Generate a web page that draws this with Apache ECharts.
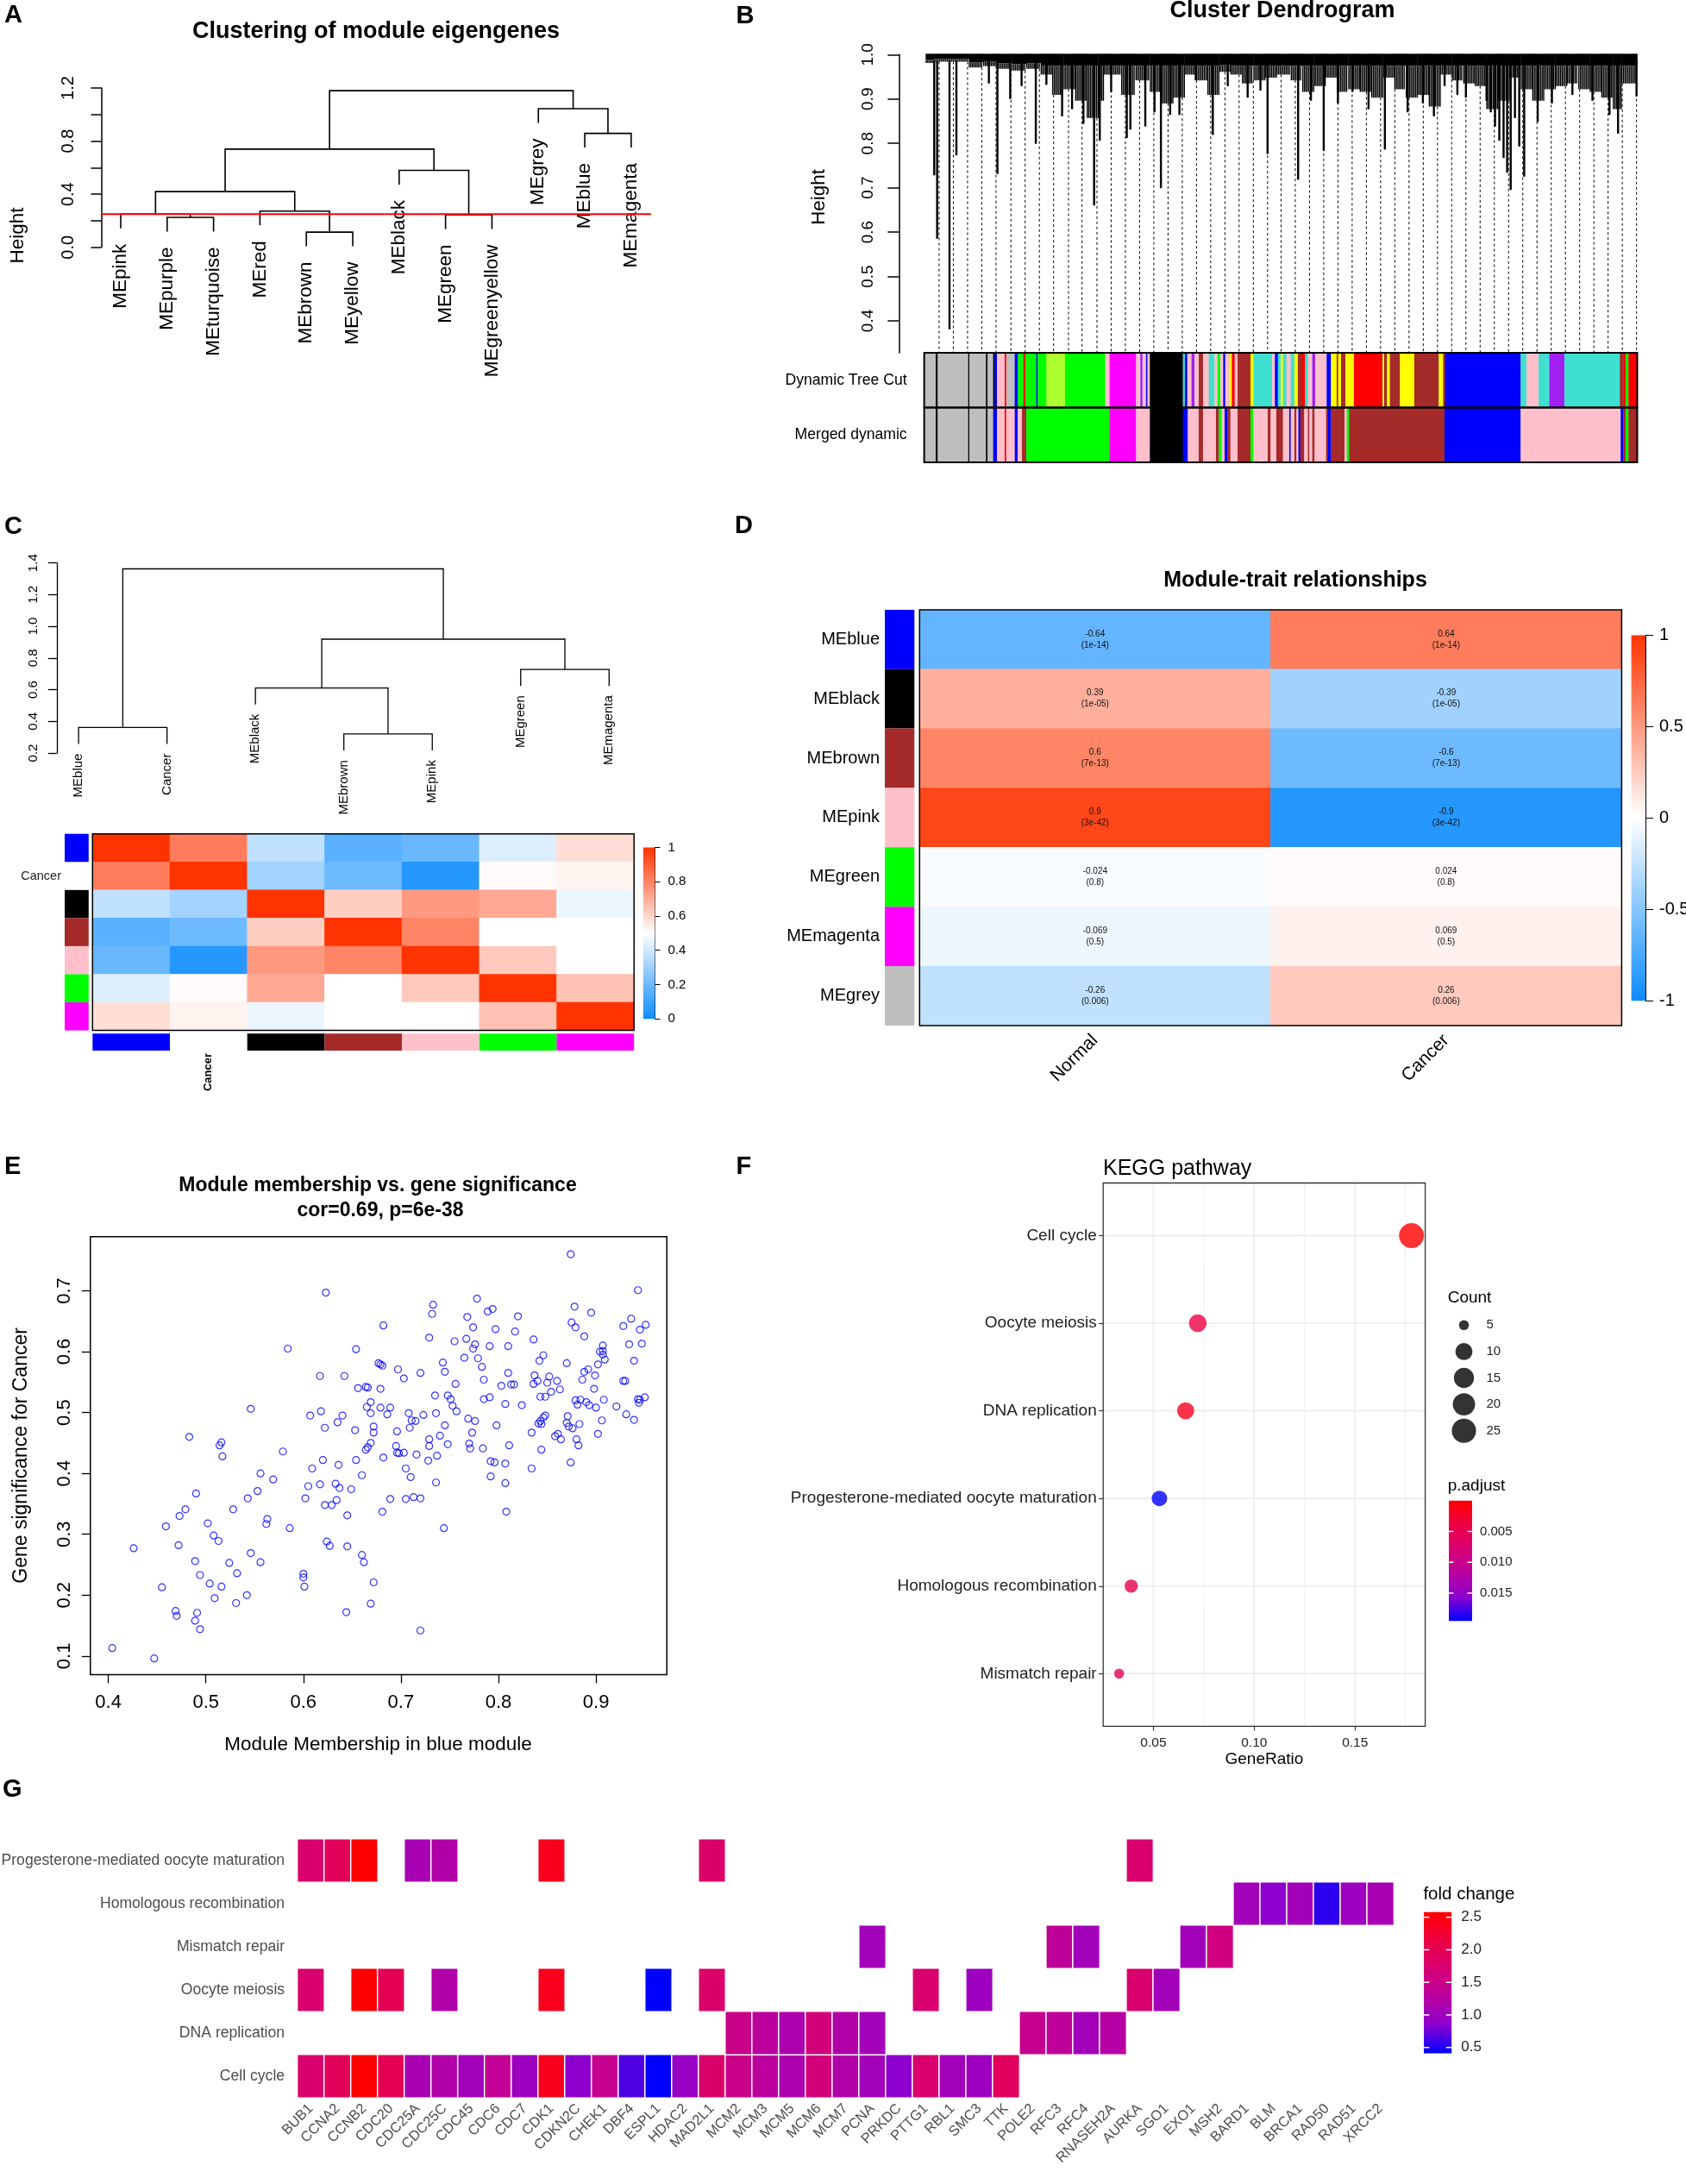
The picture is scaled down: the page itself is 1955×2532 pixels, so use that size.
<!DOCTYPE html>
<html>
<head>
<meta charset="utf-8">
<title>WGCNA blue module figure</title>
<script src="https://cdn.jsdelivr.net/npm/echarts@6.0.0/dist/echarts.min.js"></script>
<style>
html, body { margin: 0; padding: 0; background: #fff; }
#main { width: 1955px; height: 2532px; }
</style>
</head>
<body>
<div id="main"></div>
<script>
var FONT = '"Liberation Sans", Arial, Helvetica, sans-serif';

// ---------- A: clustering of module eigengenes ----------
var aLeaves = ['MEpink', 'MEpurple', 'MEturquoise', 'MEred', 'MEbrown', 'MEyellow', 'MEblack', 'MEgreen', 'MEgreenyellow', 'MEgrey', 'MEblue', 'MEmagenta'];
var aMerge = [[-5, -6], [-2, -3], [-8, -9], [-1, 2], [-4, 1], [4, 5], [-7, 3], [6, 7], [-11, -12], [-10, 9], [8, 10]];
var aHeights = [0.115, 0.226, 0.245, 0.25, 0.273, 0.42, 0.58, 0.74, 0.858, 1.044, 1.18];
var aCutHeight = 0.25;

// ---------- B: gene dendrogram (leaf order in % of leaves) ----------
var bYTicks = [0.4, 0.5, 0.6, 0.7, 0.8, 0.9, 1.0];
var bCanopyStart = [0, 1.21, 6.07, 8.09, 10.11, 12.13, 14.16, 16.18, 17.8, 19.41, 21.03, 22.65, 24.27, 25.07, 27.5, 29.52, 31.54, 33.16, 34.78, 36.4, 38.01, 39.63, 41.25, 42.87, 44.49, 46.1, 47.72, 49.34, 51.36, 52.97, 54.59, 56.21, 57.83, 59.44, 61.06, 62.68, 64.3, 65.92, 67.53, 69.15, 70.77, 72.39, 74.01, 75.62, 77.24, 78.86, 80.48, 82.1, 83.71, 85.33, 86.95, 88.57, 90.19, 91.8, 93.42, 95.04, 96.66, 97.87];
var bCanopyDepth = [0.981, 0.984, 0.971, 0.974, 0.968, 0.964, 0.968, 0.955, 0.909, 0.922, 0.896, 0.857, 0.896, 0.955, 0.909, 0.942, 0.916, 0.890, 0.903, 0.955, 0.942, 0.909, 0.961, 0.955, 0.935, 0.942, 0.948, 0.955, 0.942, 0.916, 0.929, 0.948, 0.916, 0.922, 0.916, 0.903, 0.948, 0.922, 0.903, 0.909, 0.883, 0.955, 0.942, 0.935, 0.929, 0.877, 0.896, 0.948, 0.922, 0.896, 0.922, 0.929, 0.935, 0.922, 0.916, 0.903, 0.877, 0.935];
var bCanopyEnd = 100.1;
var bSpikePos = [1.21, 1.62, 3.36, 4.33, 8.9, 10.1, 11.9, 13.5, 15.5, 16.99, 19.2, 20.6, 22.2, 23.7, 24.5, 26.1, 28.3, 28.8, 30.9, 32.2, 33.1, 34.4, 35.7, 38.0, 40.4, 42.5, 45.3, 47.1, 48.1, 52.4, 54.2, 56.0, 58.0, 60.05, 62.3, 64.6, 67.8, 69.95, 71.5, 73.0, 74.8, 76.0, 78.9, 79.5, 80.1, 80.7, 81.3, 81.8, 82.3, 82.9, 83.5, 84.2, 86.1, 88.1, 90.98, 93.8, 96.2, 97.4, 100.0];
var bSpikeLow = [0.728, 0.585, 0.381, 0.773, 0.935, 0.731, 0.90, 0.929, 0.799, 0.932, 0.861, 0.877, 0.844, 0.66, 0.806, 0.916, 0.812, 0.831, 0.838, 0.87, 0.699, 0.864, 0.864, 0.942, 0.819, 0.929, 0.903, 0.919, 0.776, 0.718, 0.896, 0.783, 0.89, 0.916, 0.877, 0.786, 0.87, 0.89, 0.861, 0.929, 0.909, 0.903, 0.896, 0.87, 0.838, 0.806, 0.767, 0.734, 0.695, 0.857, 0.793, 0.725, 0.848, 0.89, 0.909, 0.896, 0.864, 0.822, 0.906];
var bGuidePos = [1.9, 3.9, 5.9, 7.9, 9.9, 12.0, 14.0, 16.0, 18.0, 20.1, 22.0, 24.1, 26.1, 28.1, 30.1, 32.1, 34.1, 36.1, 38.1, 40.1, 42.1, 44.1, 46.1, 48.1, 50, 52, 54, 56, 58, 60, 62, 64, 66, 68, 70, 72, 74, 76, 78, 80, 82, 84, 86, 88, 90, 92, 94, 96, 98, 100];
var bBarRows = ['Dynamic Tree Cut', 'Merged dynamic'];
var bBarEnd = 100.08;
var bTreeCutStart = [-0.2, 1.42, 1.70, 5.99, 6.15, 8.49, 8.70, 9.50, 9.71, 10.03, 11.12, 11.33, 12.54, 12.94, 13.75, 14.07, 15.57, 15.77, 16.99, 19.61, 25.27, 25.88, 29.6, 30.2, 30.5, 31.0, 31.2, 31.54, 36.19, 36.47, 36.8, 37.4, 37.81, 38.42, 39.02, 39.83, 40.64, 41.05, 41.45, 41.86, 42.14, 42.78, 43.07, 43.47, 43.88, 45.7, 46.1, 48.73, 49.13, 49.54, 49.94, 50.26, 50.75, 51.35, 51.88, 52.36, 52.97, 53.38, 53.78, 54.39, 54.79, 56.41, 57.02, 57.82, 58.03, 58.43, 59.04, 60.25, 64.09, 64.29, 64.5, 64.9, 65.3, 66.72, 68.74, 72.18, 72.79, 73.07, 83.7, 84.51, 86.21, 87.74, 89.85, 97.65, 98.14, 98.46, 98.86];
var bTreeCutModule = ['grey', 'black', 'grey', 'black', 'grey', 'black', 'grey', 'black', 'blue', 'pink', 'red', 'grey', 'blue', 'green', 'red', 'green', 'blue', 'green', 'greenyellow', 'green', 'pink', 'magenta', 'pink', 'purple', 'pink', 'blue', 'pink', 'black', 'turquoise', 'blue', 'pink', 'purple', 'pink', 'brown', 'pink', 'turquoise', 'pink', 'green', 'pink', 'blue', 'pink', 'yellow', 'red', 'pink', 'brown', 'yellow', 'turquoise', 'pink', 'blue', 'turquoise', 'yellow', 'turquoise', 'pink', 'turquoise', 'yellow', 'brown', 'red', 'turquoise', 'pink', 'purple', 'pink', 'blue', 'yellow', 'brown', 'yellow', 'brown', 'yellow', 'red', 'brown', 'yellow', 'brown', 'yellow', 'brown', 'yellow', 'brown', 'yellow', 'brown', 'blue', 'turquoise', 'pink', 'turquoise', 'purple', 'turquoise', 'brown', 'red', 'green', 'red'];
var bMergedStart = [-0.2, 1.42, 1.70, 5.99, 6.15, 8.49, 8.70, 9.50, 10.03, 11.12, 11.33, 12.54, 12.94, 13.55, 14.16, 25.88, 29.6, 31.54, 36.19, 36.88, 38.42, 39.02, 40.84, 41.25, 41.65, 42.06, 42.46, 42.87, 43.88, 45.7, 46.1, 48.12, 48.53, 49.33, 50.26, 51.15, 51.35, 51.88, 52.16, 52.44, 52.69, 53.25, 53.78, 53.98, 54.39, 54.71, 56.33, 56.53, 57.02, 58.92, 59.24, 59.56, 72.99, 83.7, 97.77, 98.14, 98.46, 98.86];
var bMergedModule = ['grey', 'black', 'grey', 'black', 'grey', 'black', 'grey', 'blue', 'pink', 'red', 'pink', 'blue', 'pink', 'brown', 'green', 'magenta', 'pink', 'black', 'blue', 'pink', 'brown', 'pink', 'brown', 'green', 'pink', 'blue', 'brown', 'pink', 'brown', 'green', 'pink', 'brown', 'pink', 'brown', 'pink', 'blue', 'pink', 'brown', 'pink', 'blue', 'brown', 'pink', 'brown', 'pink', 'brown', 'pink', 'brown', 'blue', 'brown', 'pink', 'green', 'brown', 'blue', 'pink', 'blue', 'brown', 'green', 'brown'];

var moduleColors = {
	grey: '#BEBEBE', black: '#000000', blue: '#0000FF', pink: '#FFC0CB', red: '#FF0000', green: '#00FF00',
	greenyellow: '#ADFF2F', magenta: '#FF00FF', turquoise: '#40E0D0', brown: '#A52A2A', yellow: '#FFFF00', purple: '#A020F0'
};

// ---------- C: eigengene network ----------
var cLeaves = ['MEblue', 'Cancer', 'MEblack', 'MEbrown', 'MEpink', 'MEgreen', 'MEmagenta'];
var cMerge = [[-4, -5], [-1, -2], [-3, 1], [-6, -7], [3, 4], [2, 5]];
var cHeights = [0.32, 0.361, 0.611, 0.728, 0.919, 1.363];
var cModules = ['blue', '', 'black', 'brown', 'pink', 'green', 'magenta'];
var cAdjacency = [
	[1, 0.82, 0.37, 0.16, 0.19, 0.43, 0.58],
	[0.82, 1, 0.31, 0.2, 0.05, 0.51, 0.53],
	[0.37, 0.31, 1, 0.62, 0.75, 0.71, 0.46],
	[0.16, 0.2, 0.62, 1, 0.8, 0.5, 0.5],
	[0.19, 0.05, 0.75, 0.8, 1, 0.63, 0.5],
	[0.43, 0.51, 0.71, 0.5, 0.63, 1, 0.65],
	[0.58, 0.53, 0.46, 0.5, 0.5, 0.65, 1]
];

// ---------- D: module-trait relationships ----------
var dModules = ['MEblue', 'MEblack', 'MEbrown', 'MEpink', 'MEgreen', 'MEmagenta', 'MEgrey'];
var dModuleColor = ['blue', 'black', 'brown', 'pink', 'green', 'magenta', 'grey'];
var dTraits = ['Normal', 'Cancer'];
var dCorNormal = [-0.64, 0.39, 0.6, 0.9, -0.024, -0.069, -0.26];
var dCorCancer = [0.64, -0.39, -0.6, -0.9, 0.024, 0.069, 0.26];
var dPvalue = ['1e-14', '1e-05', '7e-13', '3e-42', '0.8', '0.5', '0.006'];

// ---------- E: MM vs GS, blue module ----------
var eXTicks = [0.4, 0.5, 0.6, 0.7, 0.8, 0.9];
var eYTicks = [0.1, 0.2, 0.3, 0.4, 0.5, 0.6, 0.7];
var eMM = [0.404, 0.426, 0.447, 0.455, 0.459, 0.469, 0.470, 0.472, 0.473, 0.479, 0.483, 0.489, 0.490, 0.489, 0.491, 0.494, 0.494, 0.502, 0.504, 0.508, 0.509, 0.513, 0.514, 0.516, 0.517, 0.516, 0.524, 0.528, 0.531, 0.532, 0.542, 0.543, 0.546, 0.546, 0.553, 0.556, 0.556, 0.562, 0.563, 0.569, 0.579, 0.584, 0.586, 0.600, 0.600, 0.601, 0.602, 0.605, 0.607, 0.609, 0.617, 0.617, 0.618, 0.620, 0.622, 0.622, 0.623, 0.624, 0.627, 0.629, 0.633, 0.634, 0.635, 0.636, 0.637, 0.640, 0.642, 0.644, 0.645, 0.645, 0.649, 0.653, 0.654, 0.654, 0.656, 0.660, 0.660, 0.662, 0.664, 0.665, 0.666, 0.664, 0.666, 0.669, 0.669, 0.669, 0.669, 0.672, 0.672, 0.672, 0.677, 0.679, 0.681, 0.679, 0.679, 0.682, 0.682, 0.681, 0.686, 0.689, 0.689, 0.696, 0.695, 0.696, 0.697, 0.698, 0.703, 0.703, 0.705, 0.705, 0.708, 0.709, 0.710, 0.711, 0.713, 0.715, 0.716, 0.720, 0.720, 0.720, 0.723, 0.729, 0.729, 0.728, 0.729, 0.732, 0.733, 0.735, 0.736, 0.736, 0.737, 0.740, 0.743, 0.745, 0.745, 0.744, 0.748, 0.748, 0.751, 0.753, 0.755, 0.756, 0.757, 0.765, 0.767, 0.768, 0.769, 0.770, 0.771, 0.773, 0.774, 0.774, 0.776, 0.776, 0.778, 0.779, 0.783, 0.784, 0.785, 0.785, 0.789, 0.791, 0.791, 0.792, 0.792, 0.794, 0.796, 0.797, 0.798, 0.803, 0.807, 0.807, 0.807, 0.808, 0.810, 0.810, 0.811, 0.813, 0.816, 0.817, 0.820, 0.824, 0.834, 0.834, 0.836, 0.836, 0.837, 0.840, 0.842, 0.841, 0.843, 0.843, 0.844, 0.844, 0.846, 0.846, 0.848, 0.848, 0.850, 0.852, 0.854, 0.860, 0.858, 0.861, 0.863, 0.864, 0.870, 0.870, 0.871, 0.872, 0.874, 0.874, 0.875, 0.876, 0.878, 0.879, 0.879, 0.880, 0.881, 0.882, 0.883, 0.884, 0.886, 0.888, 0.888, 0.890, 0.892, 0.893, 0.895, 0.898, 0.899, 0.900, 0.902, 0.902, 0.904, 0.906, 0.907, 0.907, 0.908, 0.909, 0.907, 0.921, 0.928, 0.928, 0.930, 0.931, 0.934, 0.936, 0.939, 0.939, 0.943, 0.943, 0.945, 0.944, 0.947, 0.950, 0.951, 0.945];
var eGS = [0.113, 0.277, 0.096, 0.213, 0.313, 0.174, 0.166, 0.282, 0.330, 0.341, 0.460, 0.256, 0.367, 0.158, 0.171, 0.233, 0.144, 0.318, 0.219, 0.298, 0.195, 0.289, 0.446, 0.451, 0.428, 0.214, 0.253, 0.341, 0.187, 0.236, 0.200, 0.359, 0.506, 0.269, 0.371, 0.400, 0.254, 0.317, 0.325, 0.390, 0.436, 0.605, 0.310, 0.235, 0.229, 0.214, 0.359, 0.379, 0.495, 0.408, 0.382, 0.560, 0.502, 0.422, 0.348, 0.475, 0.697, 0.288, 0.281, 0.348, 0.383, 0.356, 0.484, 0.414, 0.376, 0.495, 0.560, 0.172, 0.280, 0.331, 0.374, 0.471, 0.422, 0.604, 0.540, 0.397, 0.266, 0.254, 0.542, 0.509, 0.541, 0.439, 0.443, 0.186, 0.517, 0.499, 0.450, 0.477, 0.467, 0.221, 0.581, 0.579, 0.577, 0.539, 0.508, 0.643, 0.426, 0.337, 0.497, 0.508, 0.358, 0.469, 0.445, 0.434, 0.571, 0.433, 0.434, 0.556, 0.408, 0.358, 0.499, 0.475, 0.394, 0.487, 0.361, 0.486, 0.431, 0.359, 0.142, 0.565, 0.496, 0.456, 0.445, 0.421, 0.623, 0.662, 0.677, 0.528, 0.499, 0.385, 0.429, 0.462, 0.582, 0.567, 0.479, 0.310, 0.528, 0.448, 0.522, 0.511, 0.617, 0.547, 0.502, 0.590, 0.621, 0.657, 0.490, 0.449, 0.441, 0.467, 0.640, 0.605, 0.612, 0.486, 0.687, 0.589, 0.575, 0.441, 0.554, 0.522, 0.666, 0.525, 0.609, 0.420, 0.395, 0.670, 0.418, 0.637, 0.479, 0.544, 0.416, 0.384, 0.514, 0.337, 0.609, 0.565, 0.446, 0.546, 0.546, 0.633, 0.658, 0.512, 0.408, 0.467, 0.620, 0.547, 0.561, 0.552, 0.585, 0.482, 0.526, 0.486, 0.481, 0.439, 0.594, 0.492, 0.526, 0.495, 0.549, 0.559, 0.534, 0.552, 0.461, 0.465, 0.538, 0.456, 0.581, 0.483, 0.494, 0.477, 0.418, 0.760, 0.648, 0.474, 0.674, 0.520, 0.640, 0.456, 0.513, 0.446, 0.481, 0.521, 0.554, 0.625, 0.567, 0.517, 0.571, 0.512, 0.664, 0.539, 0.561, 0.508, 0.579, 0.465, 0.600, 0.487, 0.610, 0.595, 0.521, 0.587, 0.601, 0.510, 0.642, 0.552, 0.552, 0.497, 0.612, 0.654, 0.585, 0.488, 0.522, 0.701, 0.636, 0.516, 0.613, 0.525, 0.644, 0.521];

// ---------- F: KEGG dot plot ----------
var fPathways = ['Cell cycle', 'Oocyte meiosis', 'DNA replication', 'Progesterone-mediated oocyte maturation', 'Homologous recombination', 'Mismatch repair'];
var fGeneRatio = [0.178, 0.072, 0.066, 0.053, 0.039, 0.033];
var fCount = [27, 11, 10, 8, 6, 5];
var fPadjust = [0.00001, 0.0039, 0.0018, 0.0195, 0.0050, 0.0056];
var fXTicks = [0.05, 0.10, 0.15];
var fGridX = [0.05, 0.075, 0.10, 0.125, 0.15, 0.175];
var fCountBreaks = [5, 10, 15, 20, 25];
var fPadjTicks = [0.005, 0.010, 0.015];

// ---------- G: gene-pathway heatmap ----------
var gGenes = ['BUB1', 'CCNA2', 'CCNB2', 'CDC20', 'CDC25A', 'CDC25C', 'CDC45', 'CDC6', 'CDC7', 'CDK1', 'CDKN2C', 'CHEK1', 'DBF4', 'ESPL1', 'HDAC2', 'MAD2L1', 'MCM2', 'MCM3', 'MCM5', 'MCM6', 'MCM7', 'PCNA', 'PRKDC', 'PTTG1', 'RBL1', 'SMC3', 'TTK', 'POLE2', 'RFC3', 'RFC4', 'RNASEH2A', 'AURKA', 'SGO1', 'EXO1', 'MSH2', 'BARD1', 'BLM', 'BRCA1', 'RAD50', 'RAD51', 'XRCC2'];
var gFoldChange = [1.75, 1.95, 2.58, 2.0, 1.1, 1.2, 1.05, 1.4, 1.0, 2.4, 0.85, 1.45, 0.65, 0.41, 0.95, 1.8, 1.5, 1.3, 1.15, 1.65, 1.2, 1.05, 0.85, 1.75, 1.05, 1.0, 1.9, 1.45, 1.35, 1.05, 1.25, 1.75, 1.05, 1.05, 1.6, 1.05, 0.85, 1.05, 0.55, 1.0, 1.1];
var gPathways = ['Cell cycle', 'DNA replication', 'Oocyte meiosis', 'Mismatch repair', 'Homologous recombination', 'Progesterone-mediated oocyte maturation'];
var gCellCycle = ['BUB1', 'CCNA2', 'CCNB2', 'CDC20', 'CDC25A', 'CDC25C', 'CDC45', 'CDC6', 'CDC7', 'CDK1', 'CDKN2C', 'CHEK1', 'DBF4', 'ESPL1', 'HDAC2', 'MAD2L1', 'MCM2', 'MCM3', 'MCM5', 'MCM6', 'MCM7', 'PCNA', 'PRKDC', 'PTTG1', 'RBL1', 'SMC3', 'TTK'];
var gDnaReplication = ['MCM2', 'MCM3', 'MCM5', 'MCM6', 'MCM7', 'PCNA', 'POLE2', 'RFC3', 'RFC4', 'RNASEH2A'];
var gOocyteMeiosis = ['BUB1', 'CCNB2', 'CDC20', 'CDC25C', 'CDK1', 'ESPL1', 'MAD2L1', 'PTTG1', 'SMC3', 'AURKA', 'SGO1'];
var gMismatchRepair = ['PCNA', 'RFC3', 'RFC4', 'EXO1', 'MSH2'];
var gHomologous = ['BARD1', 'BLM', 'BRCA1', 'RAD50', 'RAD51', 'XRCC2'];
var gProgesterone = ['BUB1', 'CCNA2', 'CCNB2', 'CDC25A', 'CDC25C', 'CDK1', 'MAD2L1', 'AURKA'];
var gLegendTicks = [0.5, 1.0, 1.5, 2.0, 2.5];

// colour scales
var bwrColors = ['#0D8CFF', '#FFFFFF', '#FF3300'];
var labBlueRed = ['#0000FF', '#8D00CF', '#BA00A0', '#D70072', '#ED0044', '#FF0000'];

// ---------------------------------------------------------------
var grids = [], xAxes = [], yAxes = [], series = [], graphics = [], visualMaps = [];

function addGrid(box, xa, ya) {
	var i = grids.length;
	grids.push({ left: box[0], top: box[1], width: box[2], height: box[3], show: false, containLabel: false, outerBoundsMode: 'none' });
	xa.gridIndex = i;
	ya.gridIndex = i;
	xAxes.push(xa);
	yAxes.push(ya);
	return i;
}
function hiddenValue(min, max) {
	return { type: 'value', min: min, max: max, show: false };
}
function hiddenCat(data, inverse) {
	return { type: 'category', data: data, inverse: !!inverse, show: false };
}
function axisLineStyle(w) {
	return { show: true, onZero: false, lineStyle: { color: '#000', width: w } };
}
function text(x, y, s, size, o) {
	o = o || {};
	graphics.push({
		type: 'text', x: x, y: y, rotation: o.rot || 0, silent: true,
		style: {
			text: s, fontSize: size, fontFamily: FONT, fontWeight: o.bold ? 'bold' : 'normal', fill: o.color || '#000',
			align: o.align || 'center', textAlign: o.align || 'center', verticalAlign: 'middle', textVerticalAlign: 'middle'
		}
	});
}
function pushSeries(s) {
	s.silent = true;
	s.animation = false;
	series.push(s);
	return series.length - 1;
}

// hclust-like layout: leaves are already in plotting order 1..n
function dendroLayout(merge, heights) {
	var hang = 0.1 * (Math.max.apply(null, heights) - Math.min.apply(null, heights));
	var nodeX = [], links = [], leaves = [];
	function child(id, h) {
		if (id < 0) {
			leaves.push([-id, h - hang]);
			return [-id, h - hang];
		}
		return [nodeX[id - 1], heights[id - 1]];
	}
	merge.forEach(function (m, k) {
		var h = heights[k];
		var a = child(m[0], h), b = child(m[1], h);
		nodeX[k] = (a[0] + b[0]) / 2;
		links.push([a[0], a[1], b[0], b[1], h]);
	});
	return { links: links, leaves: leaves };
}
function linkSeries(gi, links, lw) {
	return {
		type: 'custom', xAxisIndex: gi, yAxisIndex: gi, data: links, clip: false,
		renderItem: function (params, api) {
			var a = api.coord([api.value(0), api.value(1)]);
			var b = api.coord([api.value(0), api.value(4)]);
			var c = api.coord([api.value(2), api.value(4)]);
			var d = api.coord([api.value(2), api.value(3)]);
			return { type: 'polyline', shape: { points: [a, b, c, d] }, style: { stroke: '#000', lineWidth: lw, fill: null } };
		}
	};
}
function leafLabelSeries(gi, leaves, names, gap, size) {
	return {
		type: 'custom', xAxisIndex: gi, yAxisIndex: gi, data: leaves, clip: false,
		renderItem: function (params, api) {
			var p = api.coord([api.value(0), api.value(1)]);
			return {
				type: 'text', x: p[0], y: p[1] + gap, rotation: Math.PI / 2,
				style: {
					text: names[api.value(0) - 1], fontSize: size, fontFamily: FONT, fill: '#000',
					align: 'right', textAlign: 'right', verticalAlign: 'middle', textVerticalAlign: 'middle'
				}
			};
		}
	};
}
function frameSeries(gi, color, lw) {
	return {
		type: 'custom', xAxisIndex: gi, yAxisIndex: gi, data: [[0, 0]], clip: false, z: 10,
		renderItem: function (params) {
			var c = params.coordSys;
			return { type: 'rect', shape: { x: c.x, y: c.y, width: c.width, height: c.height }, style: { fill: null, stroke: color, lineWidth: lw } };
		}
	};
}
function gradientSeries(gi, vLow, vHigh, stopsTopDown) {
	return {
		type: 'custom', xAxisIndex: gi, yAxisIndex: gi, data: [[0, vLow, 1, vHigh]], clip: false,
		renderItem: function (params, api) {
			var c = params.coordSys;
			var stops = stopsTopDown.map(function (col, i) { return { offset: i / (stopsTopDown.length - 1), color: col }; });
			return { type: 'rect', shape: { x: c.x, y: c.y, width: c.width, height: c.height }, style: { fill: new echarts.graphic.LinearGradient(0, 0, 0, 1, stops) } };
		}
	};
}
function whiteTickSeries(gi, ticks) {
	return {
		type: 'custom', xAxisIndex: gi, yAxisIndex: gi, data: ticks.map(function (t) { return [0, t]; }), clip: false, z: 5,
		renderItem: function (params, api) {
			var c = params.coordSys;
			var y = api.coord([0, api.value(1)])[1];
			var len = c.width / 5;
			return {
				type: 'group', children: [
					{ type: 'line', shape: { x1: c.x, y1: y, x2: c.x + len, y2: y }, style: { stroke: '#fff', lineWidth: 1.5 } },
					{ type: 'line', shape: { x1: c.x + c.width - len, y1: y, x2: c.x + c.width, y2: y }, style: { stroke: '#fff', lineWidth: 1.5 } }
				]
			};
		}
	};
}
function colorRowSeries(gi, modules, horizontal) {
	return {
		type: 'custom', xAxisIndex: gi, yAxisIndex: gi, data: modules.map(function (m, i) { return [i, 0]; }),
		renderItem: function (params, api) {
			var col = moduleColors[modules[params.dataIndex]];
			if (!col) return;
			var c = params.coordSys;
			if (horizontal) {
				var px = api.coord([api.value(0), 0])[0];
				var w = api.size([1, 0])[0];
				return { type: 'rect', shape: { x: px - w / 2, y: c.y, width: w, height: c.height }, style: { fill: col } };
			}
			var py = api.coord([0, api.value(0)])[1];
			var h = api.size([0, 1])[1];
			return { type: 'rect', shape: { x: c.x, y: py - h / 2, width: c.width, height: h }, style: { fill: col } };
		}
	};
}

// ================= A =================
var gA = addGrid([117.5, 102, 637.5, 184.8], hiddenValue(0.582, 12.43), {
	type: 'value', min: 0, max: 1.2, interval: 0.2,
	axisLine: axisLineStyle(1.5),
	axisTick: { show: true, length: 12, lineStyle: { color: '#000', width: 1.5 } },
	axisLabel: {
		rotate: 90, margin: 28, fontSize: 20, color: '#000', fontFamily: FONT,
		formatter: function (v) { return Math.abs(v * 2.5 - Math.round(v * 2.5)) < 1e-6 ? v.toFixed(1) : ''; }
	},
	splitLine: { show: false }
});
var aTree = dendroLayout(aMerge, aHeights);
pushSeries(linkSeries(gA, aTree.links, 1.6));
pushSeries(leafLabelSeries(gA, aTree.leaves, aLeaves, 18, 22.5));
pushSeries({
	type: 'custom', xAxisIndex: gA, yAxisIndex: gA, data: [[1, aCutHeight]], clip: false, z: 4,
	renderItem: function (params, api) {
		var c = params.coordSys;
		var y = api.coord([1, api.value(1)])[1];
		return { type: 'line', shape: { x1: c.x, y1: y, x2: c.x + c.width, y2: y }, style: { stroke: '#FF0000', lineWidth: 2 } };
	}
});
text(436, 36.2, 'Clustering of module eigengenes', 27, { bold: true });
text(21, 273, 'Height', 22.5, { rot: Math.PI / 2 });

// ================= B =================
var gB = addGrid([1071.65, 63.3, 826.8, 345.7], hiddenValue(-0.2, 100.1), {
	type: 'value', min: 0.328, max: 1.0, offset: 29.25,
	axisLine: axisLineStyle(1.5),
	axisTick: { show: true, length: 13, customValues: bYTicks, lineStyle: { color: '#000', width: 1.5 } },
	axisLabel: { customValues: bYTicks, rotate: 90, margin: 26, fontSize: 19, color: '#000', formatter: function (v) { return v.toFixed(1); } },
	splitLine: { show: false }
});
function canopyDepthAt(p) {
	for (var i = bCanopyStart.length - 1; i >= 0; i--) if (p >= bCanopyStart[i]) return bCanopyDepth[i];
	return bCanopyDepth[0];
}
// guide lines
pushSeries({
	type: 'custom', xAxisIndex: gB, yAxisIndex: gB, data: bGuidePos.map(function (p) { return [p, canopyDepthAt(p)]; }), clip: false, z: 1,
	renderItem: function (params, api) {
		var a = api.coord([api.value(0), api.value(1)]);
		var b = api.coord([api.value(0), 0.328]);
		return { type: 'line', shape: { x1: a[0], y1: a[1], x2: b[0], y2: b[1] }, style: { stroke: '#000', lineWidth: 1, lineDash: [3, 3] } };
	}
});
// dense upper part of the tree: solid core, then thin branches down to the read depth
pushSeries({
	type: 'custom', xAxisIndex: gB, yAxisIndex: gB, clip: false, z: 2,
	data: bCanopyStart.map(function (s, i) { return [s, i < bCanopyStart.length - 1 ? bCanopyStart[i + 1] : bCanopyEnd, bCanopyDepth[i]]; }),
	renderItem: function (params, api) {
		var s = api.value(0), e = api.value(1), d = api.value(2);
		var top = api.coord([s, 1.0]), right = api.coord([e, 1.0]);
		var core = api.coord([s, Math.max(d, 1 - 0.6 * (1 - d), 0.975)]), low = api.coord([s, d]);
		var kids = [{ type: 'rect', shape: { x: top[0], y: top[1] - 1, width: right[0] - top[0] + 0.4, height: core[1] - top[1] + 1 }, style: { fill: '#000' } }];
		for (var x = top[0] + 0.7; x < right[0]; x += 1.8) {
			kids.push({ type: 'line', shape: { x1: x, y1: core[1], x2: x, y2: low[1] }, style: { stroke: '#000', lineWidth: 1.4 } });
		}
		return { type: 'group', children: kids };
	}
});
// deeper single branches
pushSeries({
	type: 'custom', xAxisIndex: gB, yAxisIndex: gB, clip: false, z: 3,
	data: bSpikePos.map(function (p, i) { return [p, bSpikeLow[i]]; }),
	renderItem: function (params, api) {
		var a = api.coord([api.value(0), 0.985]);
		var b = api.coord([api.value(0), api.value(1)]);
		return { type: 'line', shape: { x1: a[0], y1: a[1], x2: b[0], y2: b[1] }, style: { stroke: '#000', lineWidth: 2.4 } };
	}
});
text(1487, 13, 'Cluster Dendrogram', 27, { bold: true });
text(950, 228.5, 'Height', 22.4, { rot: Math.PI / 2 });

// module colour rows
var gBars = addGrid([1071.65, 409, 826.8, 127], hiddenValue(-0.2, 100.1), {
	type: 'category', data: bBarRows, inverse: true,
	axisLine: { show: false }, axisTick: { show: false },
	axisLabel: { margin: 20, fontSize: 17.6, color: '#000' }
});
var bBarData = [], bBarModules = [];
[[bTreeCutStart, bTreeCutModule], [bMergedStart, bMergedModule]].forEach(function (row, r) {
	row[0].forEach(function (s, k) {
		var e = k < row[0].length - 1 ? row[0][k + 1] : bBarEnd;
		bBarData.push([s, e, r]);
		bBarModules.push(row[1][k]);
	});
});
pushSeries({
	type: 'custom', xAxisIndex: gBars, yAxisIndex: gBars, data: bBarData, clip: false,
	renderItem: function (params, api) {
		var a = api.coord([api.value(0), api.value(2)]);
		var b = api.coord([api.value(1), api.value(2)]);
		var h = api.size([0, 1])[1];
		return { type: 'rect', shape: { x: a[0], y: a[1] - h / 2, width: b[0] - a[0] + 0.35, height: h }, style: { fill: moduleColors[bBarModules[params.dataIndex]] } };
	}
});
pushSeries({
	type: 'custom', xAxisIndex: gBars, yAxisIndex: gBars, data: [[0, 0], [0, 1]], clip: false, z: 5,
	renderItem: function (params, api) {
		var c = params.coordSys;
		var py = api.coord([0, api.value(1)])[1];
		var h = api.size([0, 1])[1];
		return { type: 'rect', shape: { x: c.x, y: py - h / 2, width: c.width, height: h }, style: { fill: null, stroke: '#000', lineWidth: 2 } };
	}
});

// ================= C =================
var gC = addGrid([65.8, 652.7, 669.2, 220.3], hiddenValue(0.753, 7.28), {
	type: 'value', min: 0.2, max: 1.4, interval: 0.2,
	axisLine: axisLineStyle(1.3),
	axisTick: { show: true, length: 10, lineStyle: { color: '#000', width: 1.3 } },
	axisLabel: { rotate: 90, margin: 19.5, fontSize: 15, color: '#000', formatter: function (v) { return v.toFixed(1); } },
	splitLine: { show: false }
});
var cTree = dendroLayout(cMerge, cHeights);
pushSeries(linkSeries(gC, cTree.links, 1.3));
pushSeries(leafLabelSeries(gC, cTree.leaves, cLeaves, 11, 15));

var gCHeat = addGrid([107.3, 966.7, 627.9, 227.9], hiddenCat(cLeaves), hiddenCat(cLeaves, true));
var cHeatData = [];
cAdjacency.forEach(function (row, r) { row.forEach(function (v, c) { cHeatData.push([c, r, v]); }); });
var sCHeat = pushSeries({ type: 'heatmap', xAxisIndex: gCHeat, yAxisIndex: gCHeat, data: cHeatData, emphasis: { disabled: true } });
pushSeries(frameSeries(gCHeat, '#000', 1.5));

var gCLeft = addGrid([75, 966.7, 27.8, 227.9], hiddenValue(0, 1), {
	type: 'category', data: cLeaves, inverse: true, axisLine: { show: false }, axisTick: { show: false },
	axisLabel: { interval: 0, margin: 4, fontSize: 14.5, color: '#222', formatter: function (v) { return v === 'Cancer' ? v : ''; } }
});
pushSeries(colorRowSeries(gCLeft, cModules, false));
var gCBottom = addGrid([107.3, 1198.2, 627.9, 19.8], {
	type: 'category', data: cLeaves, axisLine: { show: false }, axisTick: { show: false },
	axisLabel: { interval: 0, rotate: 90, margin: 3, fontSize: 13, fontWeight: 'bold', color: '#000', formatter: function (v) { return v === 'Cancer' ? v : ''; } }
}, hiddenValue(0, 1));
pushSeries(colorRowSeries(gCBottom, cModules, true));

var gCBar = addGrid([745.8, 982.4, 13.7, 198.8], hiddenValue(0, 1), {
	type: 'value', min: 0, max: 1, interval: 0.2, position: 'right',
	axisLine: axisLineStyle(1),
	axisTick: { show: true, length: 6, lineStyle: { color: '#000' } },
	axisLabel: { margin: 15, fontSize: 15, color: '#000', formatter: function (v) { return String(+v.toFixed(1)); } },
	splitLine: { show: false }
});
pushSeries(gradientSeries(gCBar, 0, 1, bwrColors.slice().reverse()));

// ================= D =================
var gD = addGrid([1066.3, 706.9, 814.1, 482], {
	type: 'category', data: dTraits, axisLine: { show: false }, axisTick: { show: false },
	axisLabel: { interval: 0, rotate: 45, margin: 14, fontSize: 21, color: '#000' }
}, hiddenCat(dModules, true));
var dHeatData = [];
dModules.forEach(function (m, r) {
	dHeatData.push([0, r, dCorNormal[r]]);
	dHeatData.push([1, r, dCorCancer[r]]);
});
var sDHeat = pushSeries({
	type: 'heatmap', xAxisIndex: gD, yAxisIndex: gD, data: dHeatData, emphasis: { disabled: true },
	label: {
		show: true, fontSize: 10, lineHeight: 13, color: '#111', fontFamily: FONT,
		formatter: function (p) { return String(p.value[2]) + '\n(' + dPvalue[p.value[1]] + ')'; }
	}
});
pushSeries(frameSeries(gD, '#000', 1.5));
var gDLeft = addGrid([1026, 706.9, 34.3, 482], hiddenValue(0, 1), {
	type: 'category', data: dModules, inverse: true, axisLine: { show: false }, axisTick: { show: false },
	axisLabel: { interval: 0, margin: 6, fontSize: 20, color: '#000' }
});
pushSeries(colorRowSeries(gDLeft, dModuleColor, false));
var gDBar = addGrid([1891.6, 736.4, 16.4, 423.8], hiddenValue(0, 1), {
	type: 'value', min: -1, max: 1, interval: 0.5, position: 'right',
	axisLine: axisLineStyle(1),
	axisTick: { show: true, length: 9, lineStyle: { color: '#000' } },
	axisLabel: { margin: 16, fontSize: 20, color: '#000', formatter: function (v) { return String(v); } },
	splitLine: { show: false }
});
pushSeries(gradientSeries(gDBar, -1, 1, bwrColors.slice().reverse()));
text(1502, 672.8, 'Module-trait relationships', 25, { bold: true });

// ================= E =================
var gE = addGrid([104.8, 1433.7, 668.4, 507.7], {
	type: 'value', min: 0.3816, max: 0.9726, axisLine: { show: false },
	axisTick: { show: true, length: 10, customValues: eXTicks, lineStyle: { color: '#000', width: 1.3 } },
	axisLabel: { customValues: eXTicks, margin: 22, fontSize: 22, color: '#000', formatter: function (v) { return v.toFixed(1); } },
	splitLine: { show: false }
}, {
	type: 'value', min: 0.0695, max: 0.7889, axisLine: { show: false },
	axisTick: { show: true, length: 10, customValues: eYTicks, lineStyle: { color: '#000', width: 1.3 } },
	axisLabel: { customValues: eYTicks, rotate: 90, margin: 19, fontSize: 22, color: '#000', formatter: function (v) { return v.toFixed(1); } },
	splitLine: { show: false }
});
pushSeries({
	type: 'scatter', xAxisIndex: gE, yAxisIndex: gE, symbol: 'circle', symbolSize: 8,
	data: eMM.map(function (x, i) { return [x, eGS[i]]; }),
	itemStyle: { color: 'rgba(0,0,0,0)', borderColor: '#0000FF', borderWidth: 1.2 }
});
pushSeries(frameSeries(gE, '#000', 1.5));
text(438, 1375, 'Module membership vs. gene significance', 23, { bold: true });
text(441, 1403.3, 'cor=0.69, p=6e-38', 23, { bold: true });
text(438.5, 2022.9, 'Module Membership in blue module', 22.5);
text(24.5, 1687.4, 'Gene significance for Cancer', 23, { rot: Math.PI / 2 });

// ================= F =================
function fDotSize(c) {
	var lo = Math.min.apply(null, fCount), hi = Math.max.apply(null, fCount);
	var size = 3 + 5 * Math.sqrt(Math.max(0, (c - lo) / (hi - lo)));
	return 1.22 * (size * 2.845 + 0.945);
}
var fYPos = fPathways.map(function (n, i) { return i + 1; });
var gF = addGrid([1279.2, 1371.5, 373.4, 629.8], {
	type: 'value', min: 0.0251, max: 0.1848, axisLine: { show: false },
	axisTick: { show: true, length: 5, customValues: fXTicks, lineStyle: { color: '#333', width: 1.2 } },
	axisLabel: { customValues: fXTicks, margin: 11, fontSize: 15.5, color: '#222', formatter: function (v) { return v.toFixed(2); } },
	splitLine: { show: false }
}, {
	type: 'value', min: 0.4, max: fPathways.length + 0.6, inverse: true, axisLine: { show: false },
	axisTick: { show: true, length: 5, customValues: fYPos, lineStyle: { color: '#333', width: 1.2 } },
	axisLabel: { customValues: fYPos, margin: 7.5, fontSize: 19, color: '#222', formatter: function (v) { return fPathways[Math.round(v) - 1]; } },
	splitLine: { show: false }
});
pushSeries({
	type: 'custom', xAxisIndex: gF, yAxisIndex: gF, data: fGridX.map(function (v) { return [v, 1]; }), z: 1,
	renderItem: function (params, api) {
		var c = params.coordSys;
		var x = api.coord([api.value(0), 1])[0];
		var major = params.dataIndex % 2 === 0;
		return { type: 'line', shape: { x1: x, y1: c.y, x2: x, y2: c.y + c.height }, style: { stroke: '#EBEBEB', lineWidth: major ? 1.5 : 0.8 } };
	}
});
pushSeries({
	type: 'custom', xAxisIndex: gF, yAxisIndex: gF, data: fYPos.map(function (v) { return [0.1, v]; }), z: 1,
	renderItem: function (params, api) {
		var c = params.coordSys;
		var y = api.coord([0.1, api.value(1)])[1];
		return { type: 'line', shape: { x1: c.x, y1: y, x2: c.x + c.width, y2: y }, style: { stroke: '#EBEBEB', lineWidth: 1.5 } };
	}
});
var sFDots = pushSeries({
	type: 'scatter', xAxisIndex: gF, yAxisIndex: gF, z: 3,
	data: fPathways.map(function (n, i) { return [fGeneRatio[i], i + 1, fCount[i], fPadjust[i]]; }),
	symbolSize: function (v) { return fDotSize(v[2]); }
});
pushSeries(frameSeries(gF, '#333', 1.3));
text(1279, 1355, 'KEGG pathway', 25, { align: 'left' });
text(1465.9, 2040, 'GeneRatio', 19);

var gFCount = addGrid([1685, 1521, 25, 153], hiddenValue(0, 1), {
	type: 'category', data: fCountBreaks.map(String), inverse: true, position: 'right',
	axisLine: { show: false }, axisTick: { show: false },
	axisLabel: { interval: 0, margin: 13.5, fontSize: 15, color: '#222' }
});
pushSeries({
	type: 'scatter', xAxisIndex: gFCount, yAxisIndex: gFCount,
	data: fCountBreaks.map(function (c, i) { return [0.5, i, c]; }),
	symbolSize: function (v) { return fDotSize(v[2]); },
	itemStyle: { color: '#000' }
});
text(1678.7, 1505, 'Count', 19, { align: 'left' });

var gFBar = addGrid([1680, 1739.7, 27, 139.5], hiddenValue(0, 1), {
	type: 'value', min: 0, max: 0.0195, inverse: true, position: 'right',
	axisLine: { show: false }, axisTick: { show: false },
	axisLabel: { customValues: fPadjTicks, margin: 9, fontSize: 15, color: '#222', formatter: function (v) { return v.toFixed(3); } },
	splitLine: { show: false }
});
pushSeries(gradientSeries(gFBar, 0, 0.0195, labBlueRed.slice().reverse()));
pushSeries(whiteTickSeries(gFBar, fPadjTicks));
text(1678.7, 1722.4, 'p.adjust', 19, { align: 'left' });

// ================= G =================
var gG = addGrid([344.9, 2132, 1271.3, 300], {
	type: 'category', data: gGenes, axisLine: { show: false }, axisTick: { show: false },
	axisLabel: { interval: 0, rotate: 45, margin: 10, fontSize: 16.5, color: '#4D4D4D' }
}, {
	type: 'category', data: gPathways, axisLine: { show: false }, axisTick: { show: false },
	axisLabel: { interval: 0, margin: 14.8, fontSize: 17.6, color: '#4D4D4D' }
});
var gMembers = [gCellCycle, gDnaReplication, gOocyteMeiosis, gMismatchRepair, gHomologous, gProgesterone];
var gHeatData = [];
gMembers.forEach(function (list, r) {
	list.forEach(function (g) {
		var i = gGenes.indexOf(g);
		gHeatData.push([i, r, gFoldChange[i]]);
	});
});
var sGHeat = pushSeries({
	type: 'heatmap', xAxisIndex: gG, yAxisIndex: gG, data: gHeatData, emphasis: { disabled: true },
	itemStyle: { borderColor: '#fff', borderWidth: 1.5 }
});
var gGBar = addGrid([1651, 2216.7, 32.2, 163.8], hiddenValue(0, 1), {
	type: 'value', min: 0.41, max: 2.58, position: 'right',
	axisLine: { show: false }, axisTick: { show: false },
	axisLabel: { customValues: gLegendTicks, margin: 11, fontSize: 17, color: '#222', formatter: function (v) { return v.toFixed(1); } },
	splitLine: { show: false }
});
pushSeries(gradientSeries(gGBar, 0.41, 2.58, labBlueRed.slice().reverse()));
pushSeries(whiteTickSeries(gGBar, gLegendTicks));
text(1650.4, 2196, 'fold change', 20.5, { align: 'left' });

// panel letters
[['A', 5, 18.1], ['B', 853.5, 19.3], ['C', 5, 611.3], ['D', 852, 610], ['E', 5, 1352.5], ['F', 853.5, 1352.7], ['G', 3, 2075]].forEach(function (l) {
	text(l[1], l[2], l[0], 29, { bold: true, align: 'left' });
});

visualMaps = [
	{ type: 'continuous', show: false, seriesIndex: sCHeat, dimension: 2, min: 0, max: 1, inRange: { color: bwrColors } },
	{ type: 'continuous', show: false, seriesIndex: sDHeat, dimension: 2, min: -1, max: 1, inRange: { color: bwrColors } },
	{ type: 'continuous', show: false, seriesIndex: sFDots, dimension: 3, min: 0, max: 0.0195, inRange: { color: labBlueRed.slice().reverse() } },
	{ type: 'continuous', show: false, seriesIndex: sGHeat, dimension: 2, min: 0.41, max: 2.58, inRange: { color: labBlueRed } }
];

var chart = echarts.init(document.getElementById('main'));
chart.setOption({
	animation: false,
	backgroundColor: '#fff',
	textStyle: { fontFamily: FONT },
	grid: grids,
	xAxis: xAxes,
	yAxis: yAxes,
	visualMap: visualMaps,
	series: series,
	graphic: { elements: graphics }
});
</script>
</body>
</html>
